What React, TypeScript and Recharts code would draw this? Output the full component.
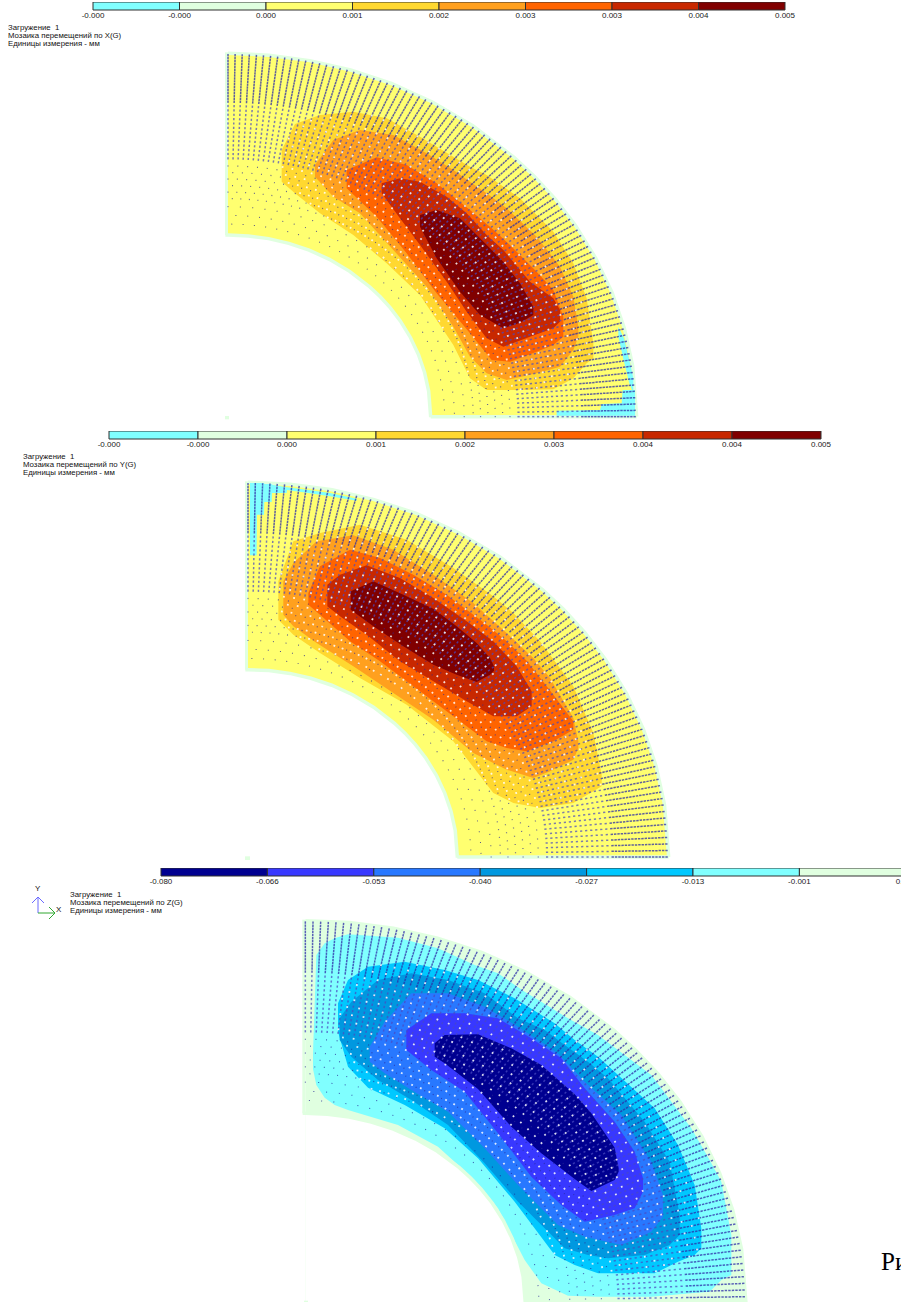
import React from "react";
import { BarChart, Bar, ComposedChart, Area, Line, Scatter, XAxis, YAxis } from "recharts";

type Row = number[];
const SANS = '"Liberation Sans", Arial, sans-serif';

// ---- palette ----
const CYAN = "#80ffff", PALE = "#e0ffe0", YELLOW = "#ffff70", GOLD = "#ffd830", ORANGE = "#ffa01e", DORANGE = "#ff6400", RED = "#c82800", DRED = "#800000";
const NAVY = "#000090", BLUE1 = "#3838ff", BLUE2 = "#2878ff", BLUE3 = "#0098e0", BLUE4 = "#00c8ff";

// ---- colour scales ----
const warmBands = [CYAN, PALE, YELLOW, GOLD, ORANGE, DORANGE, RED, DRED];
const coolBands = [NAVY, BLUE1, BLUE2, BLUE3, BLUE4, CYAN, PALE];
const xLabels = ["-0.000", "-0.000", "0.000", "0.001", "0.002", "0.003", "0.003", "0.004", "0.005"];
const yLabels = ["-0.000", "-0.000", "0.000", "0.001", "0.002", "0.003", "0.004", "0.004", "0.005"];
const zLabels = ["-0.080", "-0.066", "-0.053", "-0.040", "-0.027", "-0.013", "-0.001", "0.012"];

// ---- mesh of the model: spokes and rings ----
const spokeAngles = [0,1,2,3,4,5,6,7,8,9,10,11,12,13,14,15,16,17,18,19,20,21,22,23,24,25,26,27,28,29,30,31,32,33,34,35,36,37,38,39,40,41,42,43,44,45,46,47,48,49,50,51,52,53,54,55,56,57,58,59,60,61,62,63,64,65,66,67,68,69,70,71,72,73,74,75,76,77,78,79,80,81,82,83,84,85,86,87,88,89,90];
const outerRings = [0.995,0.987,0.979,0.971,0.963,0.955,0.947,0.939,0.931,0.923,0.915,0.907,0.899,0.891,0.883,0.875,0.867];
const midRings = [0.855,0.843,0.831,0.819,0.807,0.795,0.783,0.771,0.759,0.747,0.735,0.723,0.711];
const innerRings = [0.69,0.672,0.654,0.636,0.618,0.6];
const lowRings = [0.578,0.554,0.53];
const whiteRings = [0.92,0.9,0.88,0.86,0.84,0.82,0.8,0.78,0.76,0.74,0.72,0.7,0.68,0.66,0.64,0.62,0.6,0.58];

// unit quarter arc: [across, along]
const arcUnit = [[0,1],[0.1,0.995],[0.2,0.98],[0.3,0.954],[0.4,0.917],[0.5,0.866],[0.6,0.8],[0.7,0.714],[0.75,0.661],[0.8,0.6],[0.85,0.527],[0.9,0.436],[0.94,0.341],[0.97,0.243],[0.99,0.141],[1,0]];

// ---- X panel contours: [x, upper, lower] ----
const xGold = [[185,300,395],[225,222,430],[300,195,490],[400,185,555],[500,205,640],[600,260,735],[700,320,885],[750,350,985],[800,375,1020],[900,445,1020],[1000,545,1018],[1060,640,985],[1100,745,940],[1120,880,925]];
const xOrange = [[285,345,380],[340,270,440],[420,240,490],[520,255,600],[620,310,710],[700,360,830],[750,395,920],[800,430,970],[860,475,990],[950,560,970],[1020,650,950],[1060,740,900],[1075,830,860]];
const xDOrange = [[380,360,415],[470,322,500],[560,345,610],[650,400,730],[750,480,850],[815,535,930],[870,585,935],[950,665,905],[1000,720,885],[1030,800,860]];
const xRed = [[485,400,430],[540,385,505],[600,395,585],[680,440,695],[740,490,785],[800,555,865],[850,600,890],[930,695,860],[1000,745,835],[1020,780,815]];
const xDRed = [[600,495,530],[650,480,625],[720,505,725],[780,565,795],[850,635,835],[900,700,818],[940,770,795]];
const xCyanA = [[1010,1082,1097],[1140,1080,1097],[1145,1062,1097],[1205,1060,1097],[1208,1020,1097],[1245,1020,1097]];
const xCyanB = [[1195,830,860],[1212,865,935],[1228,930,1000],[1240,985,1030]];
const xSpeck = [[15,1098,1108],[27,1098,1108]];

// ---- Y panel contours ----
const yCyan = [[30,15,232],[50,15,232],[51,15,110],[72,15,110],[73,18,72],[95,18,72],[96,20,45],[140,28,45],[141,28,36],[200,35,44],[270,45,55],[350,62,68]];
const yGold = [[115,310,425],[160,190,470],[240,165,525],[360,140,600],[500,185,680],[640,270,790],[760,355,945],[820,405,975],[900,490,990],[1000,625,975],[1060,765,940],[1085,890,925]];
const yOrange = [[130,310,410],[160,255,445],[230,190,495],[340,172,565],[460,215,645],[580,290,725],[700,375,825],[800,465,875],[880,540,900],[930,600,880],[1000,720,845],[1015,790,810]];
const yDOrange = [[205,345,380],[240,265,410],[330,215,490],[420,240,550],[520,290,625],[620,350,700],[740,440,790],[800,490,810],[860,548,820],[940,650,790],[1000,730,755]];
const yRed = [[262,320,385],[300,290,415],[380,262,470],[480,300,550],[580,360,610],[680,430,670],[760,490,715],[830,565,715],[875,640,685]];
const yDRed = [[332,340,395],[400,310,445],[490,350,505],[580,392,560],[650,445,590],[710,495,612],[750,540,590],[762,565,578]];
const ySpeck = [[15,1135,1146],[30,1135,1146]];

// ---- Z panel contours ----
const zCyan = [[45,415,462],[55,120,510],[80,85,548],[110,70,570],[150,58,585],[300,68,630],[420,100,695],[530,150,795],[600,175,880],[680,230,1035],[730,260,1105],[810,310,1142],[900,360,1145],[1060,480,1145],[1180,640,1135],[1235,735,1130],[1270,800,1095],[1300,960,1080]];
const zB4 = [[120,265,350],[150,195,455],[210,155,518],[320,140,570],[440,165,640],[540,195,730],[650,250,860],[770,325,1020],[830,375,1050],[900,425,1075],[1070,580,1075],[1140,690,1040],[1190,810,1020],[1210,940,1000]];
const zB3 = [[125,310,375],[160,260,425],[240,195,495],[340,175,555],[450,195,630],[560,235,745],[660,310,860],[740,345,940],[800,390,1000],[870,440,1020],[930,490,1030],[1040,620,1020],[1115,740,990],[1145,900,960]];
const zB2 = [[215,395,440],[260,320,475],[340,235,525],[450,235,590],[560,275,700],[660,335,810],[780,415,930],[860,500,965],[970,600,990],[1060,740,950],[1095,840,905]];
const zB1 = [[325,345,405],[400,295,465],[500,295,530],[600,310,655],[700,370,785],[790,430,870],[860,520,920],[950,620,900],[1010,710,880],[1035,790,830]];
const zNavy = [[410,385,425],[440,360,445],[540,358,522],[640,400,635],[730,450,715],[830,538,792],[880,595,828],[950,698,795],[962,760,770]];
const zSpeck = [[18,1157,1161],[30,1157,1161]];

// ---- triad ----
const triadY = [[0,0],[0,16],[-6,10],[0,16],[6,10]];
const triadX = [[0,0],[17,0],[11,6],[17,0],[11,-6]];

const toRange = (rows: Row[]) => rows.map(([x, t, b]) => ({ x, range: [t, b] }));

const inside = (rows: Row[], x: number, y: number) => {
  if (x < rows[0][0] || x > rows[rows.length - 1][0]) return false;
  for (let i = 0; i < rows.length - 1; i++) {
    const p = rows[i], q = rows[i + 1];
    if (x >= p[0] && x <= q[0]) {
      const f = (x - p[0]) / (q[0] - p[0] || 1);
      return y >= p[1] + (q[1] - p[1]) * f && y <= p[2] + (q[2] - p[2]) * f;
    }
  }
  return false;
};

type PanelCfg = {
  left: number; top: number; w: number; h: number; cx: number; cy: number; a: number; b: number; ai: number; bi: number;
  base: string; levels: [string, Row[]][]; hot: Row[];
};

const panels: PanelCfg[] = [
  { left: 220, top: 50, w: 425, h: 375, cx: 24, cy: 1100, a: 1226, b: 1090, ai: 608, bi: 545, base: YELLOW, hot: xGold,
    levels: [[PALE, xSpeck], [CYAN, xCyanA], [CYAN, xCyanB], [GOLD, xGold], [ORANGE, xOrange], [DORANGE, xDOrange], [RED, xRed], [DRED, xDRed]] },
  { left: 240, top: 478, w: 435, h: 385, cx: 24, cy: 1137, a: 1262, b: 1124, ai: 628, bi: 562, base: YELLOW, hot: yGold,
    levels: [[PALE, ySpeck], [CYAN, yCyan], [GOLD, yGold], [ORANGE, yOrange], [DORANGE, yDOrange], [RED, yRed], [DRED, yDRed]] },
  { left: 298, top: 915, w: 455, h: 387, cx: 22, cy: 1165, a: 1322, b: 1148, ai: 660, bi: 570, base: PALE, hot: zB4,
    levels: [[PALE, zSpeck], [CYAN, zCyan], [BLUE4, zB4], [BLUE3, zB3], [BLUE2, zB2], [BLUE1, zB1], [NAVY, zNavy]] },
];

const Dash = (color: string, w: number, len: number, op: number) => (p: any) => {
  const t = p.payload?.t ?? 0;
  return <rect x={p.cx - w / 2} y={p.cy - len / 2} width={w} height={len} fill={color} opacity={op} transform={`rotate(${t} ${p.cx} ${p.cy})`} />;
};

function Panel({ cfg }: { cfg: PanelCfg }) {
  const { cx, cy, a, b, ai, bi } = cfg;
  const pt = (t: number, r: number) => ({
    x: cx + r * a * Math.sin((t * Math.PI) / 180),
    y: cy - r * b * Math.cos((t * Math.PI) / 180),
    t,
  });
  const grid = (rings: number[], step: number) =>
    rings.flatMap((r, ri) => spokeAngles.filter((_, i) => (i + ri) % step === 0).map((t) => pt(t, r)));
  const outerPts = grid(outerRings, 1);
  const midPts = grid(midRings, 1);
  const innerPts = grid(innerRings, 2);
  const lowPts = grid(lowRings, 3);
  const whitePts = grid(whiteRings, 2).filter((q) => inside(cfg.hot, q.x, q.y));

  const outer = arcUnit.map(([u, s]) => ({ x: cx + a * u, range: [cy - b * s, cy] }));
  const innerFill = arcUnit.map(([u, s]) => ({ x: cx + ai * u, range: [cy - bi * s, cy + 12] }));
  const innerLine = [{ x: cx - 8, y: cy - bi }, ...arcUnit.map(([u, s]) => ({ x: cx + ai * u, y: cy - bi * s })), { x: cx + ai, y: cy + 2 }];
  const strip = [{ x: cx - 9, range: [cy - b - 3, cy - bi] }, { x: cx, range: [cy - b - 3, cy - bi] }];

  return (
    <div style={{ position: "absolute", left: cfg.left, top: cfg.top }}>
      <ComposedChart width={cfg.w} height={cfg.h} margin={{ top: 0, right: 0, bottom: 0, left: 0 }}>
        <XAxis hide type="number" dataKey="x" domain={[0, cfg.w * 3]} allowDataOverflow />
        <YAxis hide type="number" domain={[0, cfg.h * 3]} reversed allowDataOverflow />
        <Area data={outer} dataKey="range" type="linear" fill={cfg.base} fillOpacity={1} stroke={PALE} strokeWidth={3.5} dot={false} activeDot={false} isAnimationActive={false} />
        <Area data={strip} dataKey="range" type="linear" fill={PALE} fillOpacity={1} stroke="none" dot={false} activeDot={false} isAnimationActive={false} />
        <Area data={innerFill} dataKey="range" type="linear" fill="#ffffff" fillOpacity={1} stroke="none" dot={false} activeDot={false} isAnimationActive={false} />
        {cfg.levels.map(([c, rows], i) => (
          <Area key={i} data={toRange(rows)} dataKey="range" type="linear" fill={c} fillOpacity={1} stroke="none" dot={false} activeDot={false} isAnimationActive={false} />
        ))}
        <Line data={innerLine} dataKey="y" type="linear" stroke={PALE} strokeWidth={3.5} dot={false} activeDot={false} isAnimationActive={false} />
        <Scatter data={lowPts} dataKey="y" shape={Dash("#1c1c90", 1, 1, 0.75)} isAnimationActive={false} />
        <Scatter data={innerPts} dataKey="y" shape={Dash("#2a2a98", 1, 1.2, 0.7)} isAnimationActive={false} />
        <Scatter data={midPts} dataKey="y" shape={Dash("#4a4ac0", 1.5, 2.2, 0.72)} isAnimationActive={false} />
        <Scatter data={outerPts} dataKey="y" shape={Dash("#2c2ca8", 1.5, 2.4, 0.75)} isAnimationActive={false} />
        <Scatter data={whitePts} dataKey="y" shape={Dash("#ffffff", 1.8, 1.8, 0.85)} isAnimationActive={false} />
      </ComposedChart>
    </div>
  );
}

function ColorBar({ left, top, bandW, bands, labels }: { left: number; top: number; bandW: number; bands: string[]; labels: string[] }) {
  const row: Record<string, number | string> = { name: "scale" };
  bands.forEach((_, i) => (row[`b${i}`] = 1));
  const width = left + bandW * bands.length + 60;
  return (
    <div style={{ position: "absolute", left: 0, top }}>
      <BarChart layout="vertical" width={width} height={22} data={[row]} margin={{ top: 0, right: 60, bottom: 0, left }} barCategoryGap={0}>
        <XAxis type="number" domain={[0, bands.length]} ticks={labels.map((_, i) => i)} interval={0}
          tickFormatter={(v: number) => labels[v]} axisLine={false} tickLine={false} tickMargin={0} tickSize={2} height={14}
          tick={{ fontSize: 8, fill: "#222", fontFamily: SANS }} />
        <YAxis type="category" dataKey="name" hide />
        {bands.map((c, i) => (
          <Bar key={i} dataKey={`b${i}`} stackId="s" fill={c} stroke="#303030" strokeWidth={1} isAnimationActive={false} />
        ))}
      </BarChart>
    </div>
  );
}

function Caption({ left, top, lines }: { left: number; top: number; lines: string[] }) {
  return (
    <div style={{ position: "absolute", left, top, font: `7.8px/8px ${SANS}`, color: "#111", whiteSpace: "pre" }}>
      {lines.map((l, i) => <div key={i}>{l}</div>)}
    </div>
  );
}

function Triad() {
  const toPts = (rows: Row[]) => rows.map(([x, y]) => ({ x, y }));
  return (
    <div style={{ position: "absolute", left: 28, top: 893 }}>
      <ComposedChart width={40} height={30} margin={{ top: 0, right: 0, bottom: 0, left: 0 }}>
        <XAxis hide type="number" dataKey="x" domain={[-10, 30]} allowDataOverflow />
        <YAxis hide type="number" domain={[-10, 20]} allowDataOverflow />
        <Line data={toPts(triadY)} dataKey="y" type="linear" stroke="#6a6aff" strokeWidth={1} dot={false} activeDot={false} isAnimationActive={false} />
        <Line data={toPts(triadX)} dataKey="y" type="linear" stroke="#30a830" strokeWidth={1} dot={false} activeDot={false} isAnimationActive={false} />
      </ComposedChart>
    </div>
  );
}

export default function App() {
  return (
    <div style={{ position: "absolute", left: 0, top: 0, width: 901, height: 1302, overflow: "hidden", background: "#fff" }}>
      <ColorBar left={93} top={2} bandW={86.5} bands={warmBands} labels={xLabels} />
      <Caption left={8} top={24} lines={["Загружение  1", "Мозаика перемещений по X(G)", "Единицы измерения - мм"]} />
      <Panel cfg={panels[0]} />
      <ColorBar left={109} top={431} bandW={89} bands={warmBands} labels={yLabels} />
      <Caption left={23} top={453} lines={["Загружение  1", "Мозаика перемещений по Y(G)", "Единицы измерения - мм"]} />
      <Panel cfg={panels[1]} />
      <ColorBar left={161} top={868} bandW={106.4} bands={coolBands} labels={zLabels} />
      <Caption left={70} top={891} lines={["Загружение  1", "Мозаика перемещений по Z(G)", "Единицы измерения - мм"]} />
      <Triad />
      <div style={{ position: "absolute", left: 35, top: 884, font: `8px ${SANS}`, color: "#111" }}>Y</div>
      <div style={{ position: "absolute", left: 56, top: 905, font: `8px ${SANS}`, color: "#111" }}>X</div>
      <Panel cfg={panels[2]} />
      <div style={{ position: "absolute", left: 881, top: 1248, font: `25px "Liberation Serif", serif`, color: "#000", whiteSpace: "pre" }}>Рис</div>
    </div>
  );
}
